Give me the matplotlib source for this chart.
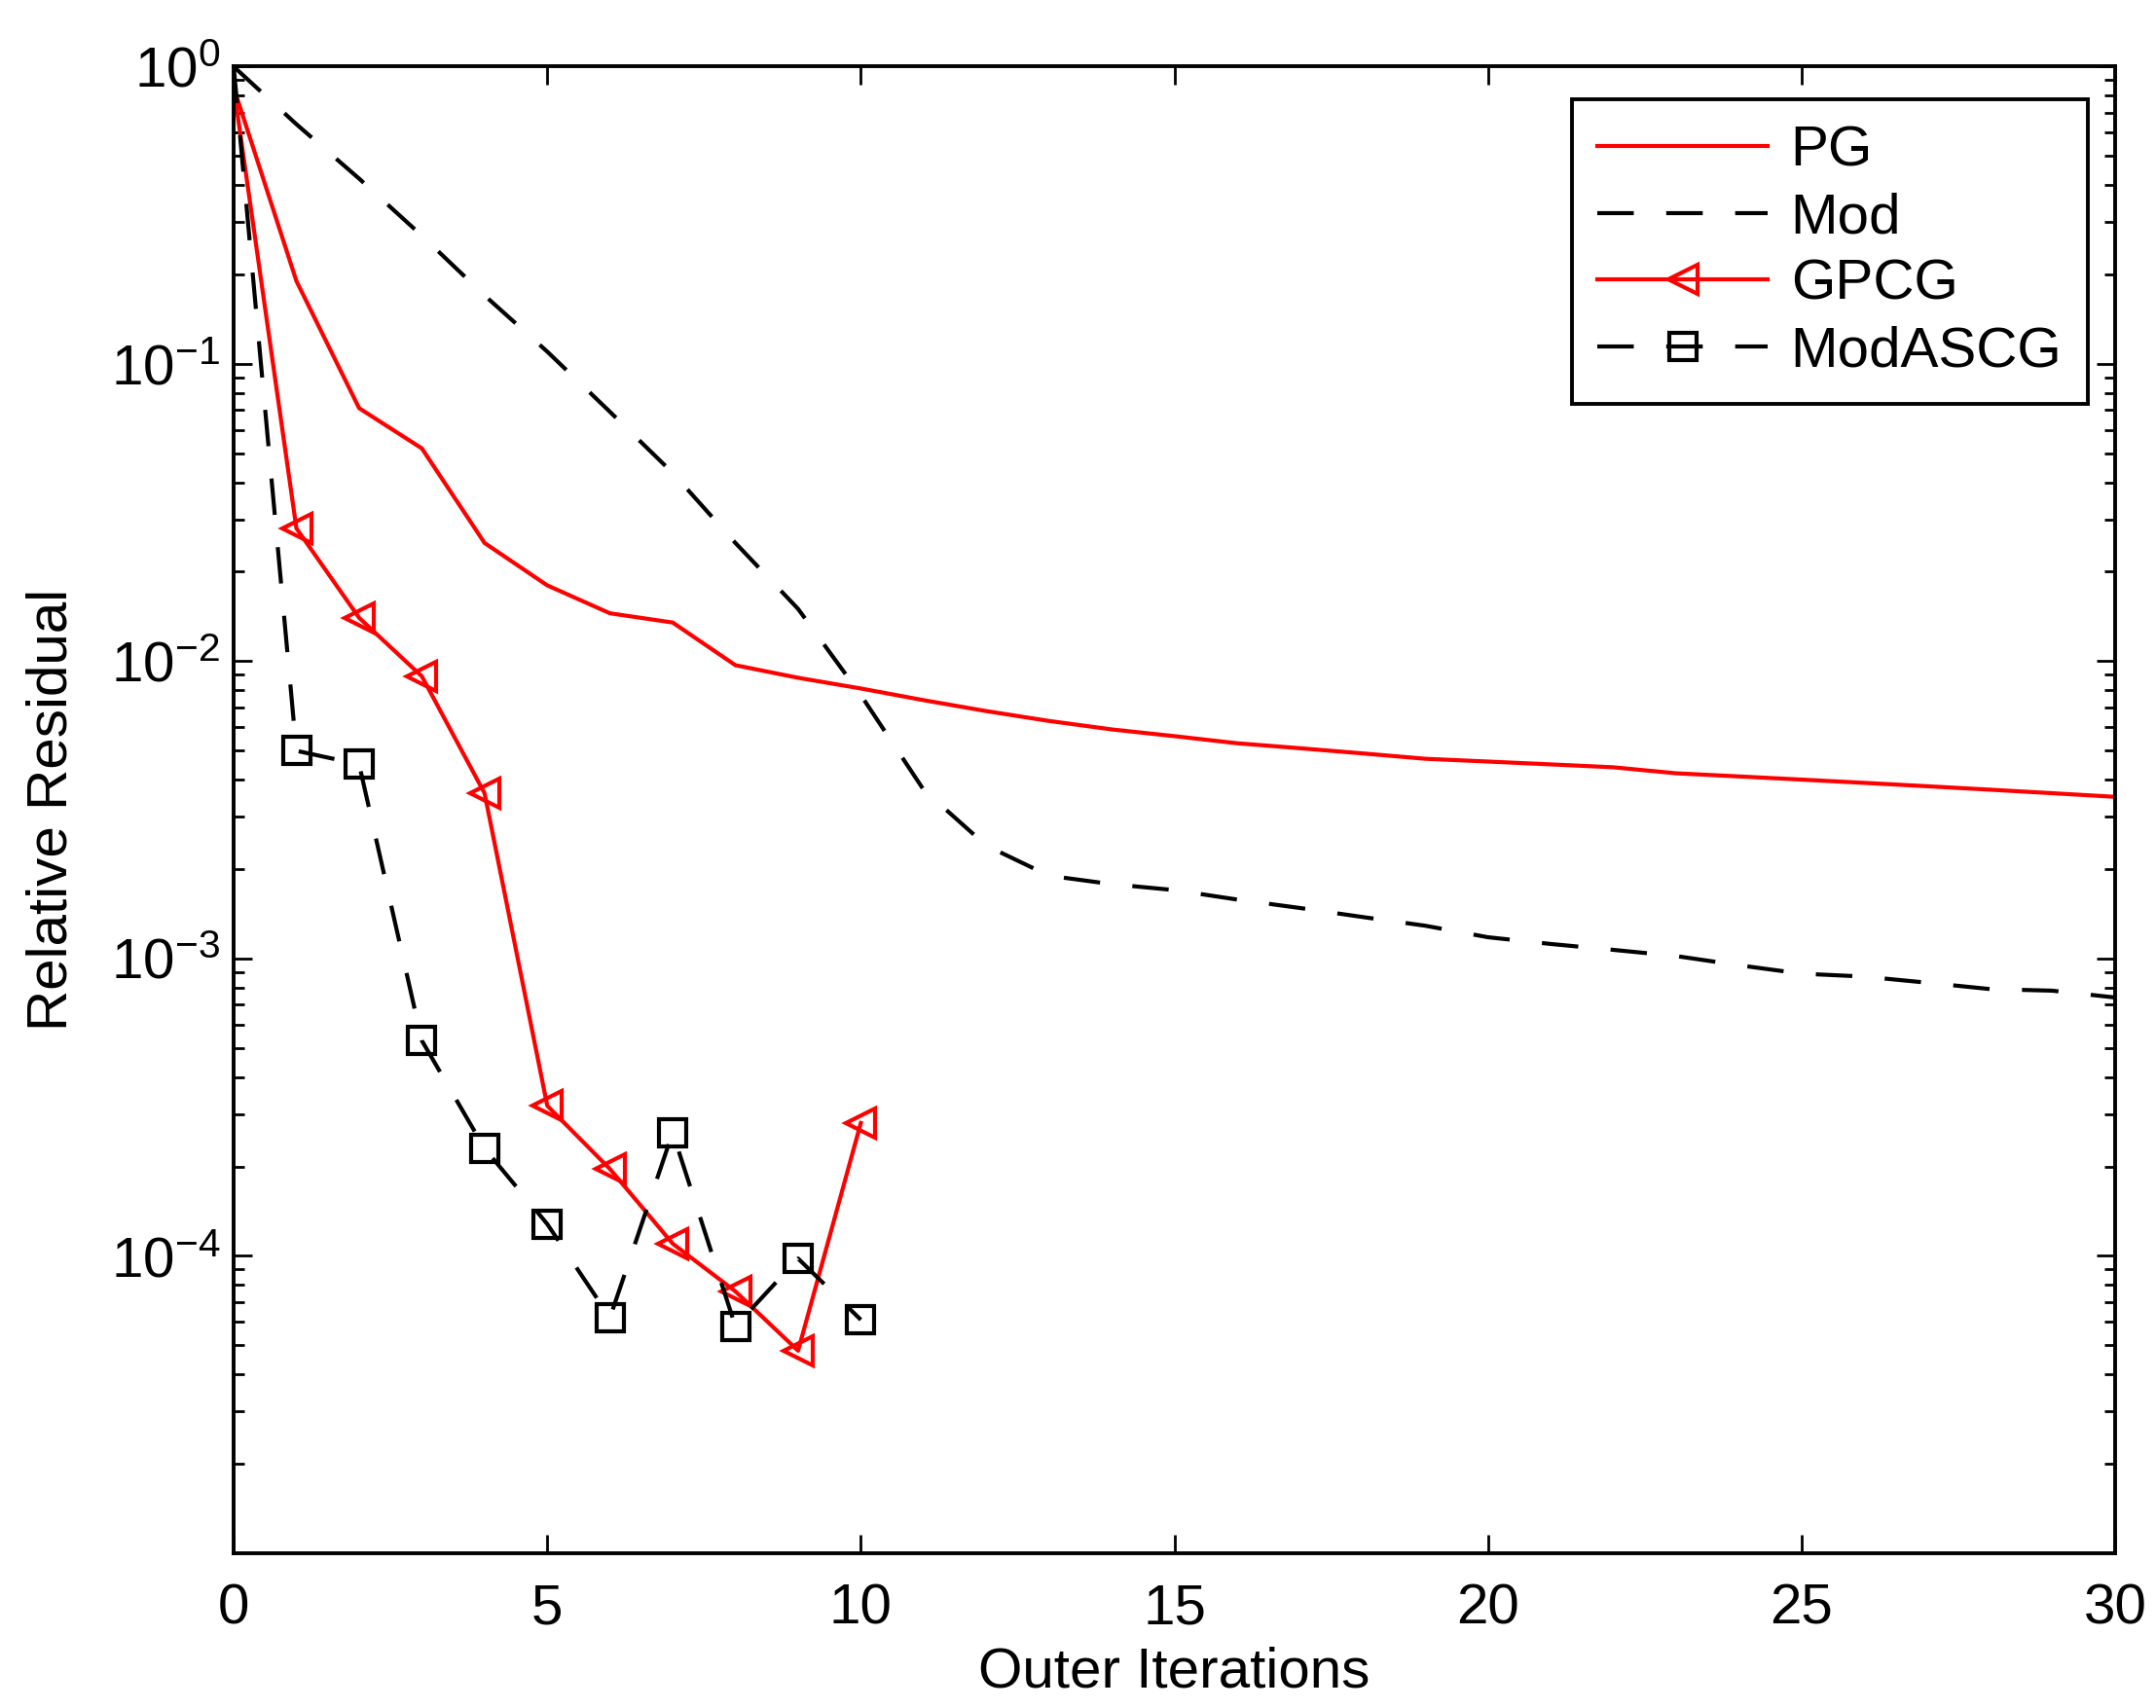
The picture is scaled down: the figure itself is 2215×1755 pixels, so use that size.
import numpy as np
import matplotlib.pyplot as plt
from matplotlib.ticker import LogLocator, NullFormatter

plt.rcParams['font.family'] = ['Liberation Sans', 'DejaVu Sans']

# outer iterations
it_long = np.arange(0, 31)
it_short = np.arange(0, 11)

pg = [0.85, 0.19, 0.071, 0.052, 0.025, 0.018, 0.0145, 0.0135, 0.0097, 0.0088,
      0.0081, 0.0074, 0.0068, 0.0063, 0.0059, 0.0056, 0.0053, 0.0051, 0.0049,
      0.0047, 0.0046, 0.0045, 0.0044, 0.0042, 0.0041, 0.0040, 0.0039, 0.0038,
      0.0037, 0.0036, 0.0035]
mod = [1.0, 0.64, 0.42, 0.27, 0.17, 0.11, 0.069, 0.043, 0.025, 0.015,
       0.0077, 0.0037, 0.0024, 0.0019, 0.00178, 0.0017, 0.00158, 0.00148,
       0.00138, 0.00129, 0.00118, 0.00112, 0.00107, 0.00102, 0.00095,
       0.00089, 0.00087, 0.00083, 0.00079, 0.00078, 0.00074]
gpcg = [0.85, 0.028, 0.014, 0.0089, 0.0036, 3.2e-4, 1.96e-4, 1.1e-4, 7.6e-5,
        4.8e-5, 2.8e-4]
modascg = [1.0, 5.0e-3, 4.5e-3, 5.3e-4, 2.3e-4, 1.28e-4, 6.2e-5, 2.6e-4,
           5.8e-5, 9.8e-5, 6.1e-5]

fs = 21
fig = plt.figure(figsize=(11.075, 8.775), dpi=200)
ax = fig.add_axes([0.1084, 0.0906, 0.8726, 0.8704])

lw = 1.5
dash = (9, 8)
ax.semilogy(it_long, pg, "-", color="red", lw=lw, label="PG")
ax.semilogy(it_long, mod, "--", color="black", lw=lw, dashes=dash, label="Mod")
ax.semilogy(it_short, gpcg, "-", color="red", lw=lw, marker="<", ms=11,
            mfc="none", mec="red", mew=1.5, markevery=range(1, 11), label="GPCG")
ax.semilogy(it_short, modascg, "--", color="black", lw=lw, dashes=dash,
            marker="s", ms=10, mfc="none", mec="black", mew=1.5,
            markevery=range(1, 11), label="ModASCG")

ax.set_xlim(0, 30)
ax.set_ylim(1e-5, 1)
ax.set_xticks([0, 5, 10, 15, 20, 25, 30])
ax.set_yticks([1e-4, 1e-3, 1e-2, 1e-1, 1e0])
ax.yaxis.set_minor_locator(LogLocator(base=10, subs=np.arange(2, 10), numticks=20))
ax.yaxis.set_minor_formatter(NullFormatter())

ax.tick_params(which="both", direction="in", top=True, right=True, labelsize=fs,
               width=1.0)
ax.tick_params(which="major", length=7)
ax.tick_params(which="minor", length=4)
ax.tick_params(axis="x", which="major", pad=11)
ax.tick_params(axis="y", which="major", pad=5)
for s in ax.spines.values():
    s.set_linewidth(1.4)

ax.set_xlabel("Outer Iterations", fontsize=fs, labelpad=4)
ax.set_ylabel("Relative Residual", fontsize=fs, labelpad=12)

leg = ax.legend(loc="upper right", fontsize=fs, handlelength=3.0,
                handletextpad=0.4, labelspacing=0.25, fancybox=False,
                framealpha=1, edgecolor="black", borderpad=0.45,
                borderaxespad=0, bbox_to_anchor=(0.9854, 0.9778))
leg.get_frame().set_linewidth(1.4)

plt.savefig("out.png", dpi=200)
